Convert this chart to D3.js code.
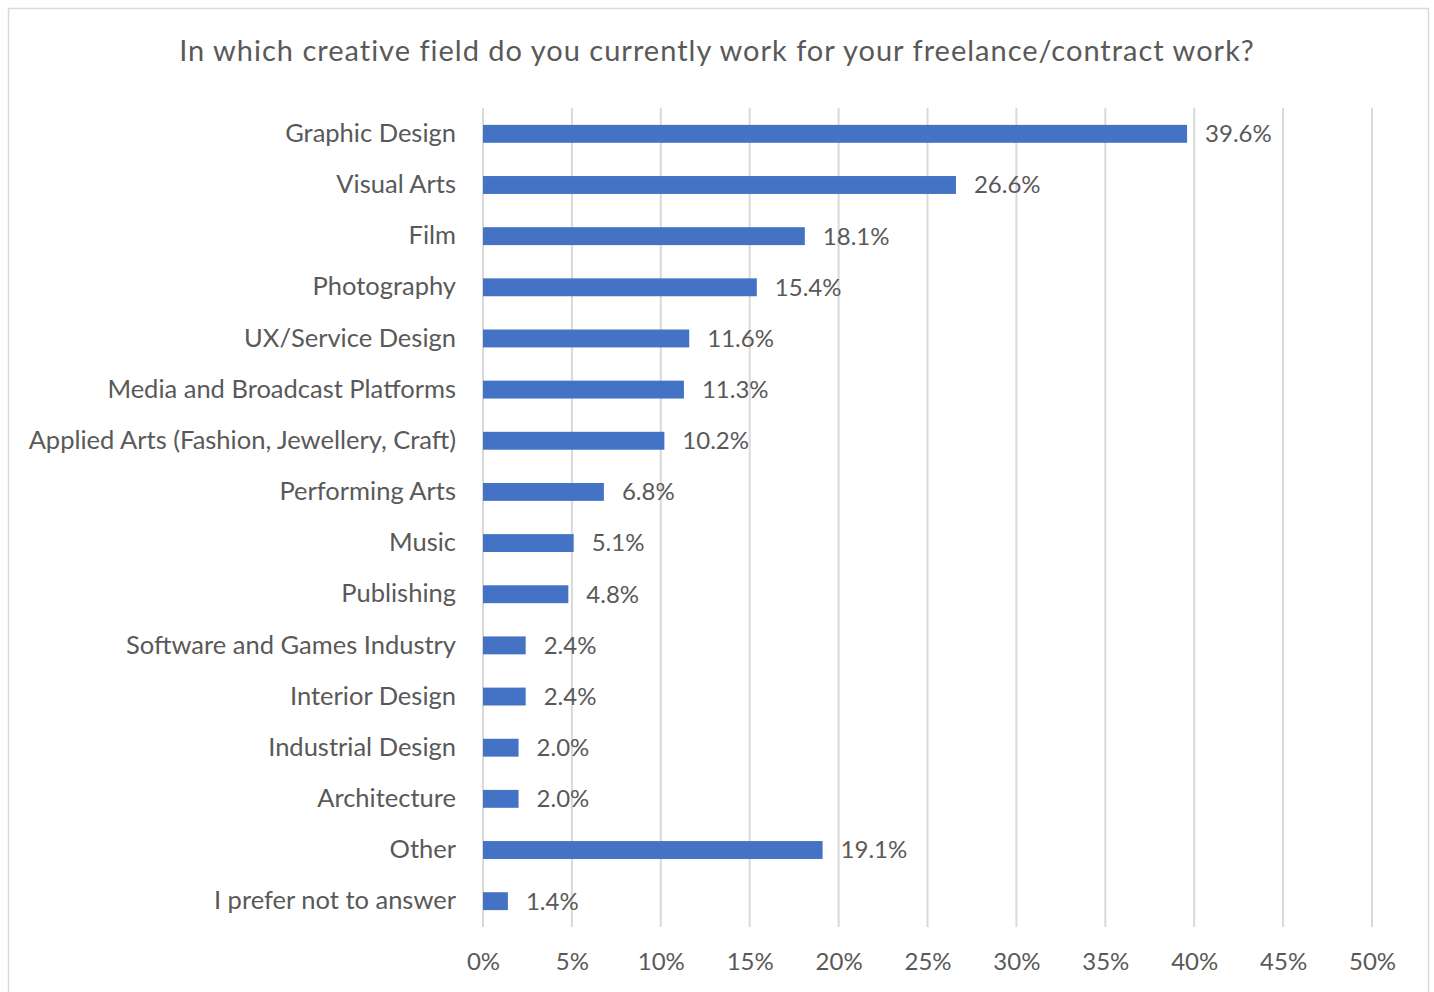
<!DOCTYPE html>
<html>
<head>
<meta charset="utf-8">
<script src="https://cdn.jsdelivr.net/npm/d3@7"></script>
<style>
  body { margin: 0; background: #fff; }
  text { font-family: "Lato", "Noto Sans", sans-serif; fill: #595959; }
</style>
</head>
<body>
<svg id="chart"></svg>
<script>
const categories = ["Graphic Design", "Visual Arts", "Film", "Photography", "UX/Service Design",
    "Media and Broadcast Platforms", "Applied Arts (Fashion, Jewellery, Craft)", "Performing Arts",
    "Music", "Publishing", "Software and Games Industry", "Interior Design", "Industrial Design",
    "Architecture", "Other", "I prefer not to answer"];
const values = [39.6, 26.6, 18.1, 15.4, 11.6, 11.3, 10.2, 6.8, 5.1, 4.8, 2.4, 2.4, 2.0, 2.0, 19.1, 1.4];
const ticks = [0, 5, 10, 15, 20, 25, 30, 35, 40, 45, 50];
const title = "In which creative field do you currently work for your freelance/contract work?";

const svgWidth = 1434, svgHeight = 992;
const margin = {top: 108, right: 62, bottom: 65, left: 483},
    width = svgWidth - margin.left - margin.right,
    height = svgHeight - margin.top - margin.bottom;

const chart = d3.select("#chart")
    .attr("width", svgWidth)
    .attr("height", svgHeight);

// outer frame
chart.append("rect")
    .attr("x", 8.5).attr("y", 8.5)
    .attr("width", 1420).attr("height", 1000)
    .attr("fill", "none")
    .attr("stroke", "#d9d9d9")
    .attr("stroke-width", 1.5);

chart.append("text")
    .attr("x", 717).attr("y", 61)
    .attr("text-anchor", "middle")
    .style("font-size", "29px")
    .style("letter-spacing", "1px")
    .text(title);

const g = chart.append("g")
    .attr("transform", `translate(${margin.left},${margin.top})`);

const xScale = d3.scaleLinear().domain([0, 50]).range([0, width]);
const yScale = d3.scaleBand().domain(categories).range([0, height]).paddingInner(0.65).paddingOuter(0.33);

// gridlines
g.append("g").selectAll("line")
    .data(ticks)
    .enter()
    .append("line")
    .attr("x1", d => xScale(d)).attr("x2", d => xScale(d))
    .attr("y1", 0).attr("y2", height)
    .attr("stroke", "#d9d9d9")
    .attr("stroke-width", 2);

// x axis labels
const xAxis = d3.axisBottom(xScale).tickValues(ticks).tickFormat(d => d + "%").tickSize(0).tickPadding(26);
g.append("g")
    .attr("transform", `translate(0,${height})`)
    .call(xAxis)
    .call(a => a.select(".domain").remove())
    .selectAll("text")
    .style("font-size", "24px")
    .style("font-family", null)
    .attr("fill", "#595959");

// y axis labels
const yAxis = d3.axisLeft(yScale).tickSize(0).tickPadding(27);
g.append("g")
    .call(yAxis)
    .call(a => a.select(".domain").remove())
    .selectAll("text")
    .style("font-size", "25.5px")
    .style("font-family", null)
    .attr("fill", "#595959");

// bars
g.append("g").selectAll("rect")
    .data(categories)
    .enter()
    .append("rect")
    .attr("x", 0)
    .attr("y", d => yScale(d))
    .attr("width", (d, i) => xScale(values[i]))
    .attr("height", yScale.bandwidth())
    .attr("fill", "#4472c4");

// value labels
g.append("g").selectAll("text")
    .data(categories)
    .enter()
    .append("text")
    .attr("x", (d, i) => xScale(values[i]) + 18)
    .attr("y", d => yScale(d) + yScale.bandwidth() / 2)
    .attr("dy", "0.35em")
    .style("font-size", "24px")
    .text((d, i) => values[i].toFixed(1) + "%");
</script>
</body>
</html>
